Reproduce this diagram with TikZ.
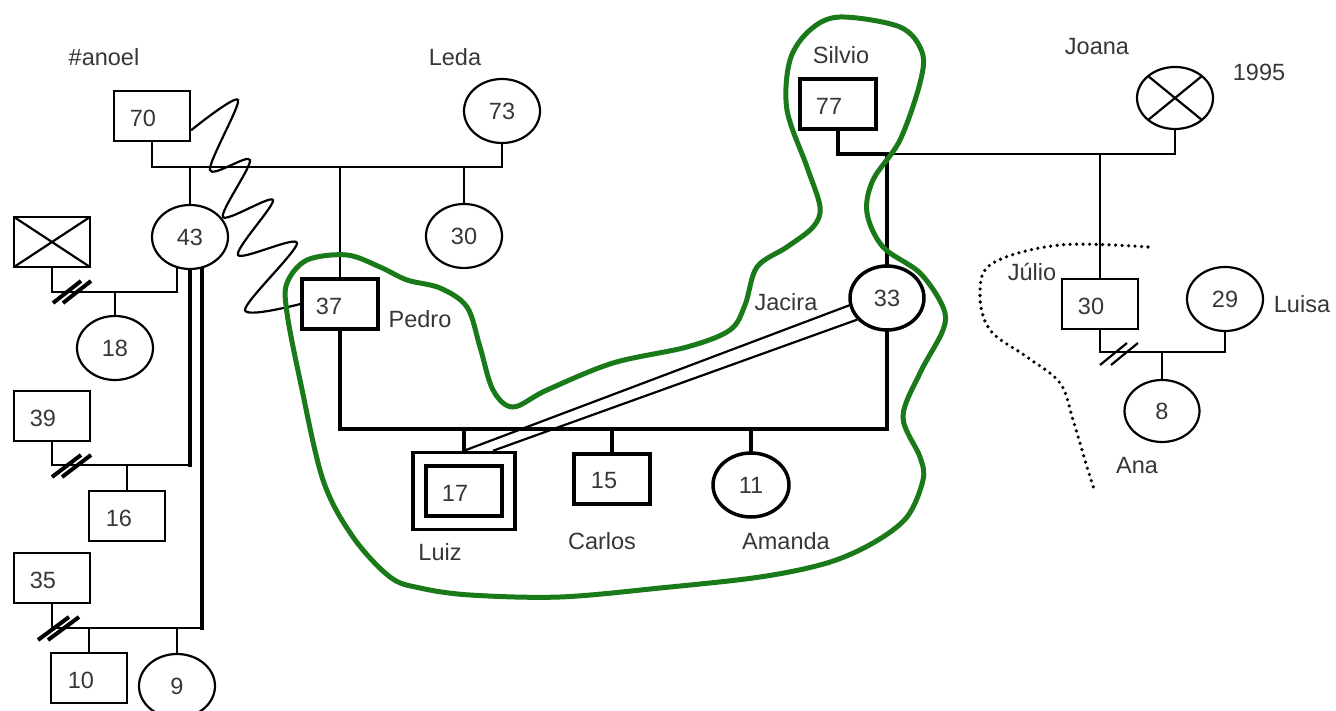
\documentclass[tikz,border=0pt]{standalone}
\usepackage{fontspec}
\setmainfont{Liberation Sans}
\usetikzlibrary{shapes.geometric,calc}
\pgfdeclarelayer{bg}
\pgfsetlayers{bg,main}
\definecolor{gg}{RGB}{26,122,26}
\definecolor{tx}{RGB}{55,55,55}
\begin{document}
\begin{tikzpicture}[x=1pt,y=-1pt,
  ln/.style={draw=black,line width=2.2pt},
  tk/.style={draw=black,line width=4pt,line cap=rect},
  sl/.style={draw=black,line width=4pt},
  pbox/.style={rectangle,draw=black,line width=2.2pt,fill=white,minimum width=76pt,minimum height=50pt,inner sep=0pt},
  tbox/.style={pbox,line width=3.5pt},
  pcirc/.style={ellipse,draw=black,line width=2.2pt,fill=white,minimum width=76pt,minimum height=64pt,inner sep=0pt,text=tx,font=\fontsize{23.5}{26}\selectfont},
  tcirc/.style={pcirc,line width=3.5pt},
  crossed/.style={path picture={\draw[line width=2.2pt] (path picture bounding box.south west) -- (path picture bounding box.north east) (path picture bounding box.north west) -- (path picture bounding box.south east);}},
  num/.style={text=tx,font=\fontsize{23.5}{26}\selectfont,inner sep=0pt},
  lbl/.style={text=tx,font=\fontsize{23.5}{26}\selectfont,inner sep=0pt},
  green/.style={draw=gg,line width=5pt},
  dots/.style={draw=black,line width=3.6pt,line cap=round,dash pattern=on 0pt off 6.5pt}
]
\useasboundingbox (0,0) rectangle (1336,711);
\begin{pgfonlayer}{bg}
\fill[white] (0,0) rectangle (1336,711);
\end{pgfonlayer}

% ---------- nodes ----------
\node[pbox] (b70) at (152,116) {};
\node[num] (t70) at ($(b70)+(-9,2)$) {70};
\node[pcirc] (c43) at (190,237) {43};
\node[pcirc] (c73) at (502,111) {73};
\node[pcirc] (c30a) at (464,236) {30};
\node[pbox,crossed] (bX) at (52,242) {};
\node[pcirc] (c18) at (115,348) {18};
\node[pbox] (b39) at (52,416) {};
\node[num] (t39) at ($(b39)+(-9,2)$) {39};
\node[pbox] (b16) at (127,516) {};
\node[num] (t16) at ($(b16)+(-8,2)$) {16};
\node[pbox] (b35) at (52,578) {};
\node[num] (t35) at ($(b35)+(-9,2)$) {35};
\node[pbox] (b10) at (89,678) {};
\node[num] (t10) at ($(b10)+(-8,2)$) {10};
\node[pcirc] (c9) at (177,686) {9};

\node[tbox] (b37) at (340,304) {};
\node[num] (t37) at ($(b37)+(-11,2)$) {37};
\node[tbox,minimum width=102pt,minimum height=77pt] (bLo) at (464,491) {};
\node[tbox] (bL) at (464,491) {};
\node[num] (t17) at ($(bL)+(-9,2)$) {17};
\node[tbox] (b15) at (612,479) {};
\node[num] (t15) at ($(b15)+(-8,2)$) {15};
\node[tcirc] (c11) at (751,485) {11};
\node[tcirc,minimum width=74pt] (c33) at (887,298) {33};
\node[tbox] (b77) at (838,104) {};
\node[num] (t77) at ($(b77)+(-9,2)$) {77};

\node[pcirc,crossed,minimum height=62pt] (cJo) at (1175,98) {};
\node[pbox] (bJu) at (1100,304) {};
\node[num] (t30b) at ($(bJu)+(-9,2)$) {30};
\node[pcirc] (c29) at (1225,299) {29};
\node[pcirc,minimum width=75pt,minimum height=62pt] (c8) at (1162,411) {8};

% ---------- labels ----------
\node[lbl] (lMa) at (104,57) {\#anoel};
\node[lbl] (lLe) at (455,57) {Leda};
\node[lbl] (lPe) at (420,319) {Pedro};
\node[lbl] (lLu) at (440,552) {Luiz};
\node[lbl] (lCa) at (602,541) {Carlos};
\node[lbl] (lAm) at (786,541) {Amanda};
\node[lbl] (lJa) at (786,302) {Jacira};
\node[lbl] (lSi) at (841,55) {Silvio};
\node[lbl] (lJo) at (1097,47) {Joana};
\node[lbl] (l95) at (1259,72) {1995};
\node[lbl] (lJu) at (1032,272) {Júlio};
\node[lbl] (lLs) at (1302,304) {Luisa};
\node[lbl] (lAn) at (1137,466) {Ana};

% ---------- connectors (behind nodes) ----------
\coordinate (y1) at (0,167);
\coordinate (y2) at (0,154);
\coordinate (y3) at (0,429);
\coordinate (y4) at (0,292);
\coordinate (y5) at (0,465);
\coordinate (y6) at (0,628);
\coordinate (y7) at (0,352);
\coordinate (c43l) at ($(c43)+(-13,0)$);
\coordinate (c43r) at ($(c43)+(12,0)$);
\begin{pgfonlayer}{bg}
  % 70 + 73
  \draw[ln] (b70) -- (b70 |- y1) -- (c73 |- y1) -- (c73);
  \draw[ln] (c43) -- (c43 |- y1);
  \draw[ln] (c30a) -- (c30a |- y1);
  \draw[ln] (b37) -- (b37 |- y1);
  % Silvio + Joana
  \draw[tk] (b77) -- (b77 |- y2) -- (c33 |- y2) -- (c33);
  \draw[ln] (c33 |- y2) -- (cJo |- y2) -- (cJo);
  \draw[ln] (bJu) -- (bJu |- y2);
  % Pedro + Jacira
  \draw[tk] (b37) -- (b37 |- y3) -- (c33 |- y3) -- (c33);
  \draw[tk] (bLo) -- (bLo |- y3);
  \draw[tk] (b15) -- (b15 |- y3);
  \draw[tk] (c11) -- (c11 |- y3);
  % 43 unions
  \draw[ln] (bX) -- (bX |- y4) -| (c43l);
  \draw[ln] (c18) -- (c18 |- y4);
  \draw[tk] (c43) -- (c43 |- y5);
  \draw[ln] (c43 |- y5) -- (b39 |- y5) -- (b39);
  \draw[ln] (b16) -- (b16 |- y5);
  \draw[tk] (c43r) -- (c43r |- y6);
  \draw[ln] (c43r |- y6) -- (b35 |- y6) -- (b35);
  \draw[ln] (b10) -- (b10 |- y6);
  \draw[ln] (c9) -- (c9 |- y6);
  % Julio + Luisa
  \draw[ln] (bJu) -- (bJu |- y7) -- (c29 |- y7) -- (c29);
  \draw[ln] (c8) -- (c8 |- y7);
\end{pgfonlayer}

% divorce slashes
\foreach \d in {0,10} {
  \draw[sl] ($(bX |- y4)+(1+\d,11)$) -- ++(28,-22);
  \draw[sl] ($(b39 |- y5)+(0+\d,12)$) -- ++(29,-22);
  \draw[sl] ($(b35 |- y6)+(-14+\d,12)$) -- ++(31,-23);
}
\foreach \d in {0,11} {
  \draw[ln] ($(bJu |- y7)+(0+\d,13)$) -- ++(27,-22);
}

% Jacira - Luiz double line
\draw[ln] (bLo.north) -- (c33.191);
\draw[ln] ($(bLo.north)+(29,0)$) -- (c33.216);

% conflict zigzag
\draw[ln] plot[smooth,tension=0.5] coordinates {(b70.-20) (238,100) (210,170) (250,160) (223,217) (273,200) (238,255) (297,243) (245,310) (b37.west)};

% dotted boundary
\draw[dots] plot[smooth,tension=0.6] coordinates {(1148,247) (1060,245) (993,263) (980,293) (990,330) (1027,357) (1060,383) (1073,420) (1087,467) (1095,492)};

% green boundary
\draw[green] plot[smooth cycle,tension=0.55] coordinates {(840,17) (900,27) (922,52) (920,83) (900,140) (873,180) (867,213) (883,247) (920,273) (943,307) (943,330) (920,373) (903,417) (920,457) (923,480) (907,517) (873,543) (827,563) (760,577) (660,588) (560,597) (470,595) (420,588) (390,577) (353,537) (323,480) (300,380) (287,313) (287,283) (307,260) (347,255) (380,267) (407,280) (440,288) (467,307) (480,347) (493,390) (513,407) (547,390) (613,363) (687,347) (730,330) (745,305) (757,267) (787,247) (813,227) (820,207) (807,167) (787,110) (790,60) (810,30)};
\end{tikzpicture}
\end{document}
